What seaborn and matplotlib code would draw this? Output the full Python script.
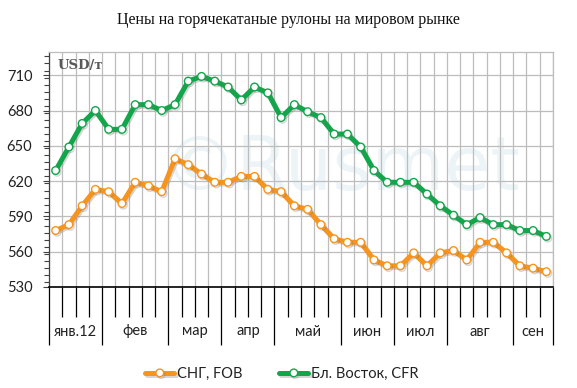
import matplotlib
matplotlib.use("Agg")
import matplotlib.pyplot as plt
import matplotlib.patheffects as pe
from matplotlib.ticker import FixedLocator, MultipleLocator
import numpy as np
import pandas as pd
import seaborn as sns

# weekly prices, USD/t (Jan 2012 - Sep 2012)
cis_fob = [578, 583, 599, 613, 611, 601, 619, 616, 611, 639,
           634, 626, 619, 619, 624, 624, 613, 611, 599, 596,
           583, 571, 568, 568, 553, 548, 548, 559, 548, 559,
           561, 553, 568, 568, 559, 548, 546, 543]
mideast_cfr = [629, 649, 669, 680, 664, 664, 685, 685, 680, 685,
               705, 709, 705, 700, 689, 700, 695, 674, 685, 679,
               674, 660, 660, 649, 629, 619, 619, 619, 609, 599,
               591, 583, 589, 583, 583, 578, 578, 573]
months = ["янв.12", "фев", "мар", "апр", "май", "июн", "июл", "авг", "сен"]
weeks_per_month = [4, 5, 4, 4, 5, 4, 4, 5, 3]
series_names = ["СНГ, FOB", "Бл. Восток, CFR"]
series_colors = ["#f7941d", "#12a64b"]

week = np.arange(len(cis_fob))
df = pd.DataFrame({"week": week, "cis": cis_fob, "me": mideast_cfr})

sns.set_theme(style="white")
plt.rcParams["font.family"] = ["Lato", "DejaVu Sans"]

fig = plt.figure(figsize=(5.77, 3.88), dpi=100)
ax = fig.add_axes([49 / 577, 1 - 287 / 388, 504 / 577, 235.3 / 388])

# faint watermark
ax.text(0.58, 0.50, "©Rusmet", transform=ax.transAxes, fontsize=54,
        color="#edf4f8", ha="center", va="center", zorder=0,
        fontfamily="DejaVu Sans")

shadow = [pe.SimpleLineShadow(offset=(1.0, -1.2), shadow_color="#777777", alpha=0.3),
          pe.Normal()]
for col, name, c in zip(["cis", "me"], series_names, series_colors):
    sns.lineplot(data=df, x="week", y=col, ax=ax, color=c, linewidth=3.6,
                 marker="o", markersize=5.5, markerfacecolor="white",
                 markeredgecolor=c, markeredgewidth=1.0, label=name,
                 path_effects=shadow, zorder=3)

ax.set_xlim(-0.5, len(week) - 0.5)
ax.set_ylim(530, 730)
ax.set_xlabel("")
ax.set_ylabel("")

# y axis
ax.yaxis.set_major_locator(FixedLocator(np.arange(530, 711, 30)))
ax.yaxis.set_minor_locator(MultipleLocator(6))
ax.tick_params(axis="y", which="major", left=True, length=4, width=0.8,
               color="#404040", labelsize=10.5, labelcolor="#222222", pad=8)
ax.tick_params(axis="y", which="minor", left=True, length=3.5, width=0.8,
               color="#404040")

# x axis: week and month boundaries
edges = np.cumsum([0] + weeks_per_month) - 0.5
centers = (edges[:-1] + edges[1:]) / 2
ax.xaxis.set_major_locator(FixedLocator(edges))
ax.xaxis.set_minor_locator(FixedLocator(np.arange(len(week) + 1) - 0.5))
ax.set_xticklabels([])
ax.tick_params(axis="x", which="major", bottom=True, length=42, width=0.9,
               color="black", direction="out")
ax.tick_params(axis="x", which="minor", bottom=True, length=21.5, width=0.9,
               color="black", direction="out")

sec = ax.secondary_xaxis("bottom")
sec.set_xticks(centers)
sec.set_xticklabels(months)
sec.tick_params(length=0, pad=27, labelsize=10.5, labelcolor="#222222")
sec.spines["bottom"].set_visible(False)

# grid and frame
ax.xaxis.grid(True, which="both", color="#bdbdbd", linewidth=0.9)
ax.yaxis.grid(True, which="major", color="#bdbdbd", linewidth=0.9)
ax.set_axisbelow(True)
for s in ["top", "right"]:
    ax.spines[s].set_color("#bdbdbd")
    ax.spines[s].set_linewidth(0.9)
ax.spines["left"].set_color("#404040")
ax.spines["left"].set_linewidth(0.9)
ax.spines["bottom"].set_color("black")
ax.spines["bottom"].set_linewidth(1.2)

ax.text(0.018, 0.94, "USD/т", transform=ax.transAxes, fontsize=9.5,
        fontweight="bold", color="#595959", ha="left", va="center",
        fontfamily="DejaVu Serif")

fig.text(0.5, 1 - 20 / 388, "Цены на горячекатаные рулоны на мировом рынке",
         ha="center", va="center", fontsize=11.5, color="#111111",
         fontfamily="Liberation Serif")

ax.get_legend().remove()
handles, labels = ax.get_legend_handles_labels()
fig.legend(handles, labels, loc="center", bbox_to_anchor=(282 / 577, 1 - 374 / 388),
           ncol=2, frameon=False, fontsize=10.5, handlelength=2.0,
           handletextpad=0.2, columnspacing=2.5, labelcolor="#222222")

fig.savefig("out.png", dpi=100, facecolor="white")
